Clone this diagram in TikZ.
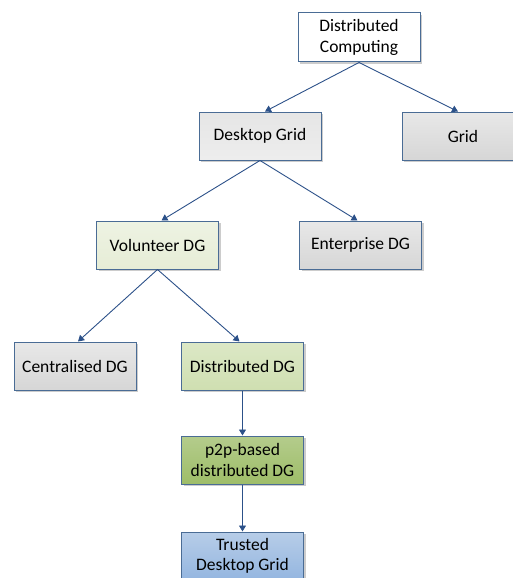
\documentclass[tikz,border=0pt]{standalone}
\usepackage{fontspec}
\setmainfont{Carlito}
\usetikzlibrary{arrows.meta,shadows}
\definecolor{edge}{HTML}{4A6C95}
\definecolor{link}{HTML}{2C5189}
\definecolor{sageTop}{HTML}{EEF3E3}
\definecolor{sageBot}{HTML}{E6EDD6}
\definecolor{limeTop}{HTML}{DCE8C6}
\definecolor{limeBot}{HTML}{CFDFB1}
\definecolor{oliveTop}{HTML}{B4CC8C}
\definecolor{oliveBot}{HTML}{9EBD68}
\definecolor{skyTop}{HTML}{B7CDE8}
\definecolor{skyBot}{HTML}{94B6E0}
\tikzset{
  box/.style={draw=edge, line width=1pt, minimum width=122pt, minimum height=48pt,
    align=center, inner sep=2pt, font=\fontsize{17.5}{20.5}\selectfont,
    drop shadow={shadow xshift=2pt, shadow yshift=-2pt, fill=black!25, opacity=0.8}},
  link/.style={draw=link, line width=0.9pt, -{Triangle[width=7pt,length=6pt]}},
  plain/.style={fill=white},
  pale/.style={top color=white!90!black, bottom color=white!93!black},
  grey/.style={top color=black!9, bottom color=black!16},
  sage/.style={top color=sageTop, bottom color=sageBot},
  lime/.style={top color=limeTop, bottom color=limeBot},
  olive/.style={top color=oliveTop, bottom color=oliveBot},
  sky/.style={top color=skyTop, bottom color=skyBot},
}
\begin{document}
\begin{tikzpicture}[x=1pt,y=-1pt]
  \useasboundingbox (0,0) rectangle (513,578);
  \begin{scope}
    \clip (0,0) rectangle (513,578);
    % tree of computing paradigms
    \node[box,plain, minimum height=49pt] (dc)   at (359,37.5) {Distributed\\Computing};
    \node[box,pale]  (dg)   at (260,136)   {Desktop Grid};
    \node[box,grey]  (grid) at (463,136)   {Grid};
    \node[box,sage]  (vdg)  at (157.5,245) {Volunteer DG};
    \node[box,grey]  (edg)  at (360.5,245) {Enterprise DG};
    \node[box,grey]  (cdg)  at (75,366)    {Centralised DG};
    \node[box,lime]  (ddg)  at (242.5,366) {Distributed DG};
    \node[box,olive] (pdg)  at (242.5,460) {p2p-based\\distributed DG};
    \node[box,sky]   (tdg)  at (242.5,556) {Trusted\\Desktop Grid};
    % connectors
    \draw[link] (dc.south)  -- ([xshift=5pt]dg.north);
    \draw[link] (dc.south)  -- ([xshift=-5pt]grid.north);
    \draw[link] (dg.south)  -- ([xshift=4pt]vdg.north);
    \draw[link] (dg.south)  -- ([xshift=-3pt]edg.north);
    \draw[link] (vdg.south) -- ([xshift=3pt]cdg.north);
    \draw[link] (vdg.south) -- ([xshift=-3pt]ddg.north);
    \draw[link] (ddg.south) -- (pdg.north);
    \draw[link] (pdg.south) -- (tdg.north);
  \end{scope}
\end{tikzpicture}
\end{document}
